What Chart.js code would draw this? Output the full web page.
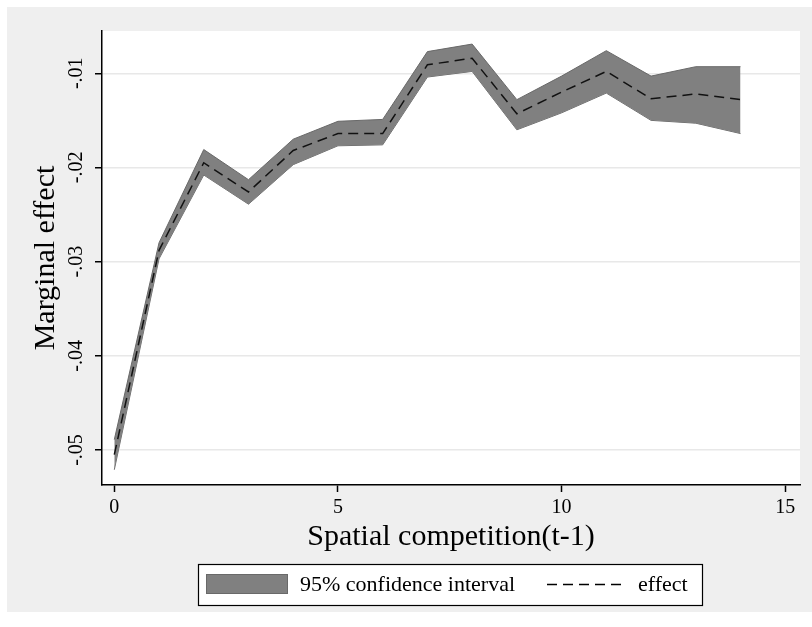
<!DOCTYPE html>
<html>
<head>
<meta charset="utf-8">
<script src="https://cdn.jsdelivr.net/npm/chart.js@4.4.0/dist/chart.umd.min.js"></script>
<style>
  html, body { margin: 0; padding: 0; background: #fff; }
</style>
</head>
<body>
<canvas id="marginChart" width="812" height="627"></canvas>
<script>
// values
const xValues = [0, 1, 2, 3, 4, 5, 6, 7, 8, 9, 10, 11, 12, 13, 14];
const effect = [-0.0505, -0.0288, -0.0195, -0.0226, -0.0182, -0.0164, -0.0164, -0.0091, -0.0084, -0.0143, -0.0120, -0.0098, -0.0127, -0.0122, -0.0128];
const ciUpper = [-0.0489, -0.0280, -0.0181, -0.0213, -0.0170, -0.0151, -0.0149, -0.0077, -0.0069, -0.0128, -0.0103, -0.0076, -0.0103, -0.0093, -0.0093];
const ciLower = [-0.0521, -0.0297, -0.0208, -0.0239, -0.0197, -0.0177, -0.0176, -0.0104, -0.0098, -0.0160, -0.0142, -0.0121, -0.0150, -0.0153, -0.0164];
const xTicks = [0, 5, 10, 15];
const yTicks = [-0.05, -0.04, -0.03, -0.02, -0.01];

const serif = "'Liberation Serif', 'Times New Roman', serif";
const bandFill = 'rgb(128,128,128)';
const bandEdge = 'rgb(105,105,105)';
const dashPattern = [10, 6];

const toPoints = (ys) => xValues.map((x, i) => ({ x: x, y: ys[i] }));
const fmtY = (v) => '-' + Math.abs(v).toFixed(2).replace(/^0/, '');

// gray graph region + white plot region
const backdrop = {
    id: 'backdrop',
    beforeDraw(chart) {
        const c = chart.ctx;
        const a = chart.chartArea;
        c.save();
        c.fillStyle = '#ffffff';
        c.fillRect(0, 0, chart.width, chart.height);
        c.fillStyle = '#efefef';
        c.fillRect(7, 7, chart.width - 7, 605);
        c.fillStyle = '#ffffff';
        c.fillRect(a.left, a.top, a.right - a.left, a.bottom - a.top);
        c.restore();
    }
};

// boxed legend under the x title
const boxLegend = {
    id: 'boxLegend',
    afterDraw(chart) {
        const c = chart.ctx;
        const ds = chart.data.datasets;
        c.save();
        c.fillStyle = '#ffffff';
        c.fillRect(198, 564, 504, 41);
        c.strokeStyle = '#000';
        c.lineWidth = 1.2;
        c.strokeRect(198.5, 564.5, 504, 41);

        c.fillStyle = bandFill;
        c.fillRect(206, 574, 81, 19);
        c.strokeStyle = bandEdge;
        c.lineWidth = 1;
        c.strokeRect(206.5, 574.5, 81, 19);

        c.font = '22px ' + serif;
        c.fillStyle = '#000';
        c.textBaseline = 'middle';
        c.textAlign = 'left';
        c.fillText(ds[0].label, 300, 585);

        c.strokeStyle = '#000';
        c.lineWidth = 1.5;
        c.setLineDash(dashPattern);
        c.beginPath();
        c.moveTo(547, 584.5);
        c.lineTo(626, 584.5);
        c.stroke();
        c.setLineDash([]);
        c.fillText(ds[2].label, 638, 585);
        c.restore();
    }
};

const ctx = document.getElementById('marginChart').getContext('2d');
const marginChart = new Chart(ctx, {
    type: 'line',
    data: {
        datasets: [{
            label: '95% confidence interval',
            data: toPoints(ciUpper),
            fill: '+1',
            backgroundColor: bandFill,
            borderColor: bandEdge,
            borderWidth: 1,
            pointRadius: 0,
            tension: 0,
            order: 2
        }, {
            label: 'lower',
            data: toPoints(ciLower),
            fill: false,
            borderColor: bandEdge,
            borderWidth: 1,
            pointRadius: 0,
            tension: 0,
            order: 2
        }, {
            label: 'effect',
            data: toPoints(effect),
            fill: false,
            borderColor: '#111',
            borderWidth: 1.5,
            borderDash: dashPattern,
            pointRadius: 0,
            tension: 0,
            order: 0
        }]
    },
    options: {
        responsive: false,
        devicePixelRatio: 1,
        animation: false,
        layout: { padding: { left: 7, top: 31, right: 12, bottom: 62 } },
        plugins: {
            legend: { display: false },
            tooltip: { enabled: false }
        },
        scales: {
            x: {
                type: 'linear',
                min: -0.275,
                max: 15.33,
                afterBuildTicks: (axis) => { axis.ticks = xTicks.map(v => ({ value: v })); },
                afterFit: (axis) => { axis.height = 80; },
                grid: {
                    drawOnChartArea: false,
                    tickColor: '#000',
                    tickLength: 7,
                    tickWidth: 1.5
                },
                border: { color: '#000', width: 1.5 },
                ticks: {
                    color: '#000',
                    font: { family: serif, size: 20 },
                    padding: 4,
                    maxRotation: 0,
                    callback: (v) => String(v)
                },
                title: {
                    display: true,
                    text: 'Spatial competition(t-1)',
                    color: '#000',
                    font: { family: serif, size: 30 },
                    padding: { top: 0, bottom: 10 }
                }
            },
            y: {
                min: -0.05372,
                max: -0.00551,
                afterBuildTicks: (axis) => { axis.ticks = yTicks.map(v => ({ value: v })); },
                afterFit: (axis) => { axis.width = 95; },
                grid: {
                    color: '#e8e8e8',
                    lineWidth: 1.5,
                    tickColor: '#000',
                    tickLength: 7,
                    tickWidth: 1.5
                },
                border: { color: '#000', width: 1.5 },
                ticks: {
                    color: '#000',
                    font: { family: serif, size: 20 },
                    padding: 2,
                    minRotation: 90,
                    maxRotation: 90,
                    crossAlign: 'center',
                    callback: (v) => fmtY(v)
                },
                title: {
                    display: true,
                    text: 'Marginal effect',
                    color: '#000',
                    font: { family: serif, size: 30 },
                    padding: { top: 21, bottom: 0 }
                }
            }
        }
    },
    plugins: [backdrop, boxLegend]
});
</script>
</body>
</html>
